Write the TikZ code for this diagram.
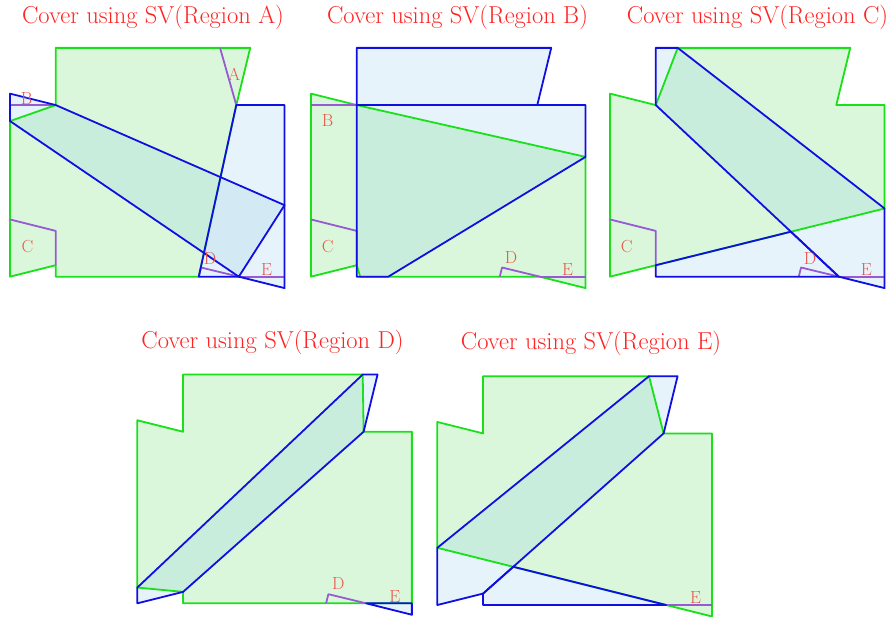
\documentclass[tikz,border=0pt]{standalone}
\definecolor{gline}{RGB}{25,225,25}
\definecolor{bline}{RGB}{15,15,225}
\definecolor{pline}{RGB}{150,90,210}
\definecolor{gfillc}{RGB}{0,200,0}
\definecolor{bfillc}{RGB}{120,190,225}
\definecolor{titred}{RGB}{255,35,35}
\definecolor{labred}{RGB}{235,85,75}
\tikzset{
  gf/.style={fill=gfillc, fill opacity=0.14},
  bf/.style={fill=bfillc, fill opacity=0.18},
  gl/.style={draw=gline, line width=1.8pt, line join=round},
  bl/.style={draw=bline, line width=1.8pt, line join=round},
  pl/.style={draw=pline, line width=1.8pt, line join=round},
  titlenode/.style={font=\fontsize{24.5}{29}\selectfont, text=titred, inner sep=0pt, anchor=base},
  regnode/.style={font=\fontsize{17.5}{20}\selectfont, text=labred, inner sep=0pt},
  panel/.style={x=11.44pt, y=11.44pt}
}
\begin{document}
\begin{tikzpicture}
\useasboundingbox (0pt,0pt) rectangle (890pt,-617pt);
% titles
\node[titlenode] (t1) at (153pt,-23.3pt) {Cover using SV(Region A)};
\node[titlenode] (t2) at (457.5pt,-23.3pt) {Cover using SV(Region B)};
\node[titlenode] (t3) at (757.5pt,-23.3pt) {Cover using SV(Region C)};
\node[titlenode] (t4) at (272.5pt,-348pt) {Cover using SV(Region D)};
\node[titlenode] (t5) at (591pt,-349.5pt) {Cover using SV(Region E)};

% ---------- Panel 1 : Region A ----------
\begin{scope}[shift={(10pt,-276.67pt)}, panel]
\def\G{(4,20)--(21,20)--(19.78,15)--(16.5,0)--(4,0)--(4,1)--(0,0)--(0,13.6)--(4,15)--cycle}
\def\Ba{(0,16)--(4,15)--(24,6.25)--(20,0)--(0,13.6)--cycle}
\def\Bb{(19.78,15)--(24,15)--(24,-1)--(20,0)--(16.5,0)--cycle}
\fill[gf] \G; \fill[bf] \Ba; \fill[bf] \Bb;
\draw[gl] \G;
\draw[pl] (18.36,20)--(19.78,15);
\draw[pl] (0,15)--(4,15);
\draw[pl] (0,5)--(4,4)--(4,1);
\draw[pl] (16.5,0)--(16.7,0.8)--(20,0);
\draw[pl] (20,0)--(24,0);
\draw[bl] \Ba; \draw[bl] \Bb;
\node[regnode] (a1) at (19.6,17.67) {A};
\node[regnode] (b1) at (1.46,15.57) {B};
\node[regnode] (c1) at (1.52,2.66) {C};
\node[regnode] (d1) at (17.48,1.58) {D};
\node[regnode] (e1) at (22.44,0.65) {E};
\end{scope}

% ---------- Panel 2 : Region B ----------
\begin{scope}[shift={(311pt,-276.67pt)}, panel]
\def\G{(0,16)--(4,15)--(24,10.47)--(24,-1)--(20,0)--(4.3,0)--(4,1)--(0,0)--cycle}
\def\Ba{(4,20)--(21,20)--(19.78,15)--(4,15)--cycle}
\def\Bb{(4,15)--(24,15)--(24,10.47)--(6.76,0)--(4,0)--cycle}
\fill[gf] \G; \fill[bf] \Ba; \fill[bf] \Bb;
\draw[gl] \G;
\draw[pl] (0,15)--(4,15);
\draw[pl] (0,5)--(4,4)--(4,1);
\draw[pl] (16.5,0)--(16.7,0.8)--(20,0);
\draw[pl] (20,0)--(24,0);
\draw[bl] \Ba; \draw[bl] \Bb;
\node[regnode] (b2) at (1.46,13.68) {B};
\node[regnode] (c2) at (1.46,2.66) {C};
\node[regnode] (d2) at (17.48,1.64) {D};
\node[regnode] (e2) at (22.44,0.65) {E};
\end{scope}

% ---------- Panel 3 : Region C ----------
\begin{scope}[shift={(610pt,-276.67pt)}, panel]
\def\G{(0,16)--(4,15)--(5.92,20)--(21,20)--(19.78,15)--(24,15)--(24,5.96)--(4,1)--(0,0)--cycle}
\def\Ba{(4,20)--(5.92,20)--(24,5.96)--(24,-1)--(20,0)--(4,15)--cycle}
\def\Bb{(4,1)--(15.81,3.93)--(20,0)--(4,0)--cycle}
\fill[gf] \G; \fill[bf] \Ba; \fill[bf] \Bb;
\draw[gl] \G;
\draw[pl] (0,5)--(4,4)--(4,1);
\draw[pl] (16.5,0)--(16.7,0.8)--(20,0);
\draw[pl] (20,0)--(24,0);
\draw[bl] \Ba; \draw[bl] \Bb;
\node[regnode] (c3) at (1.46,2.66) {C};
\node[regnode] (d3) at (17.48,1.58) {D};
\node[regnode] (e3) at (22.4,0.65) {E};
\end{scope}

% ---------- Panel 4 : Region D ----------
\begin{scope}[shift={(137.33pt,-603.33pt)}, panel]
\def\G{(0,16)--(4,15)--(4,20)--(19.7,20)--(19.78,15)--(24,15)--(24,0)--(20,0)--(4,0)--(4,1)--(0,1.38)--cycle}
\def\Ba{(0,1.38)--(19.7,20)--(21,20)--(19.78,15)--(4,1)--(0,0)--cycle}
\def\Bb{(20,0)--(24,0)--(24,-1)--cycle}
\fill[gf] \G; \fill[bf] \Ba; \fill[bf] \Bb;
\draw[gl] \G;
\draw[pl] (16.5,0)--(16.7,0.8)--(20,0);
\draw[bl] \Ba; \draw[bl] \Bb;
\node[regnode] (d4) at (17.57,1.70) {D};
\node[regnode] (e4) at (22.52,0.59) {E};
\end{scope}

% ---------- Panel 5 : Region E ----------
\begin{scope}[shift={(437.33pt,-605pt)}, panel]
\def\G{(0,16)--(4,15)--(4,20)--(18.5,20)--(19.78,15)--(24,15)--(24,-1)--(20,0)--(0,5)--cycle}
\def\Ba{(0,5)--(18.5,20)--(21,20)--(19.78,15)--(4,1)--(0,0)--cycle}
\def\Bb{(6.64,3.34)--(20,0)--(4,0)--(4,1)--cycle}
\fill[gf] \G; \fill[bf] \Ba; \fill[bf] \Bb;
\draw[gl] \G;
\draw[pl] (20,0)--(24,0);
\draw[bl] \Ba; \draw[bl] \Bb;
\node[regnode] (e5) at (22.58,0.62) {E};
\end{scope}
\end{tikzpicture}
\end{document}
